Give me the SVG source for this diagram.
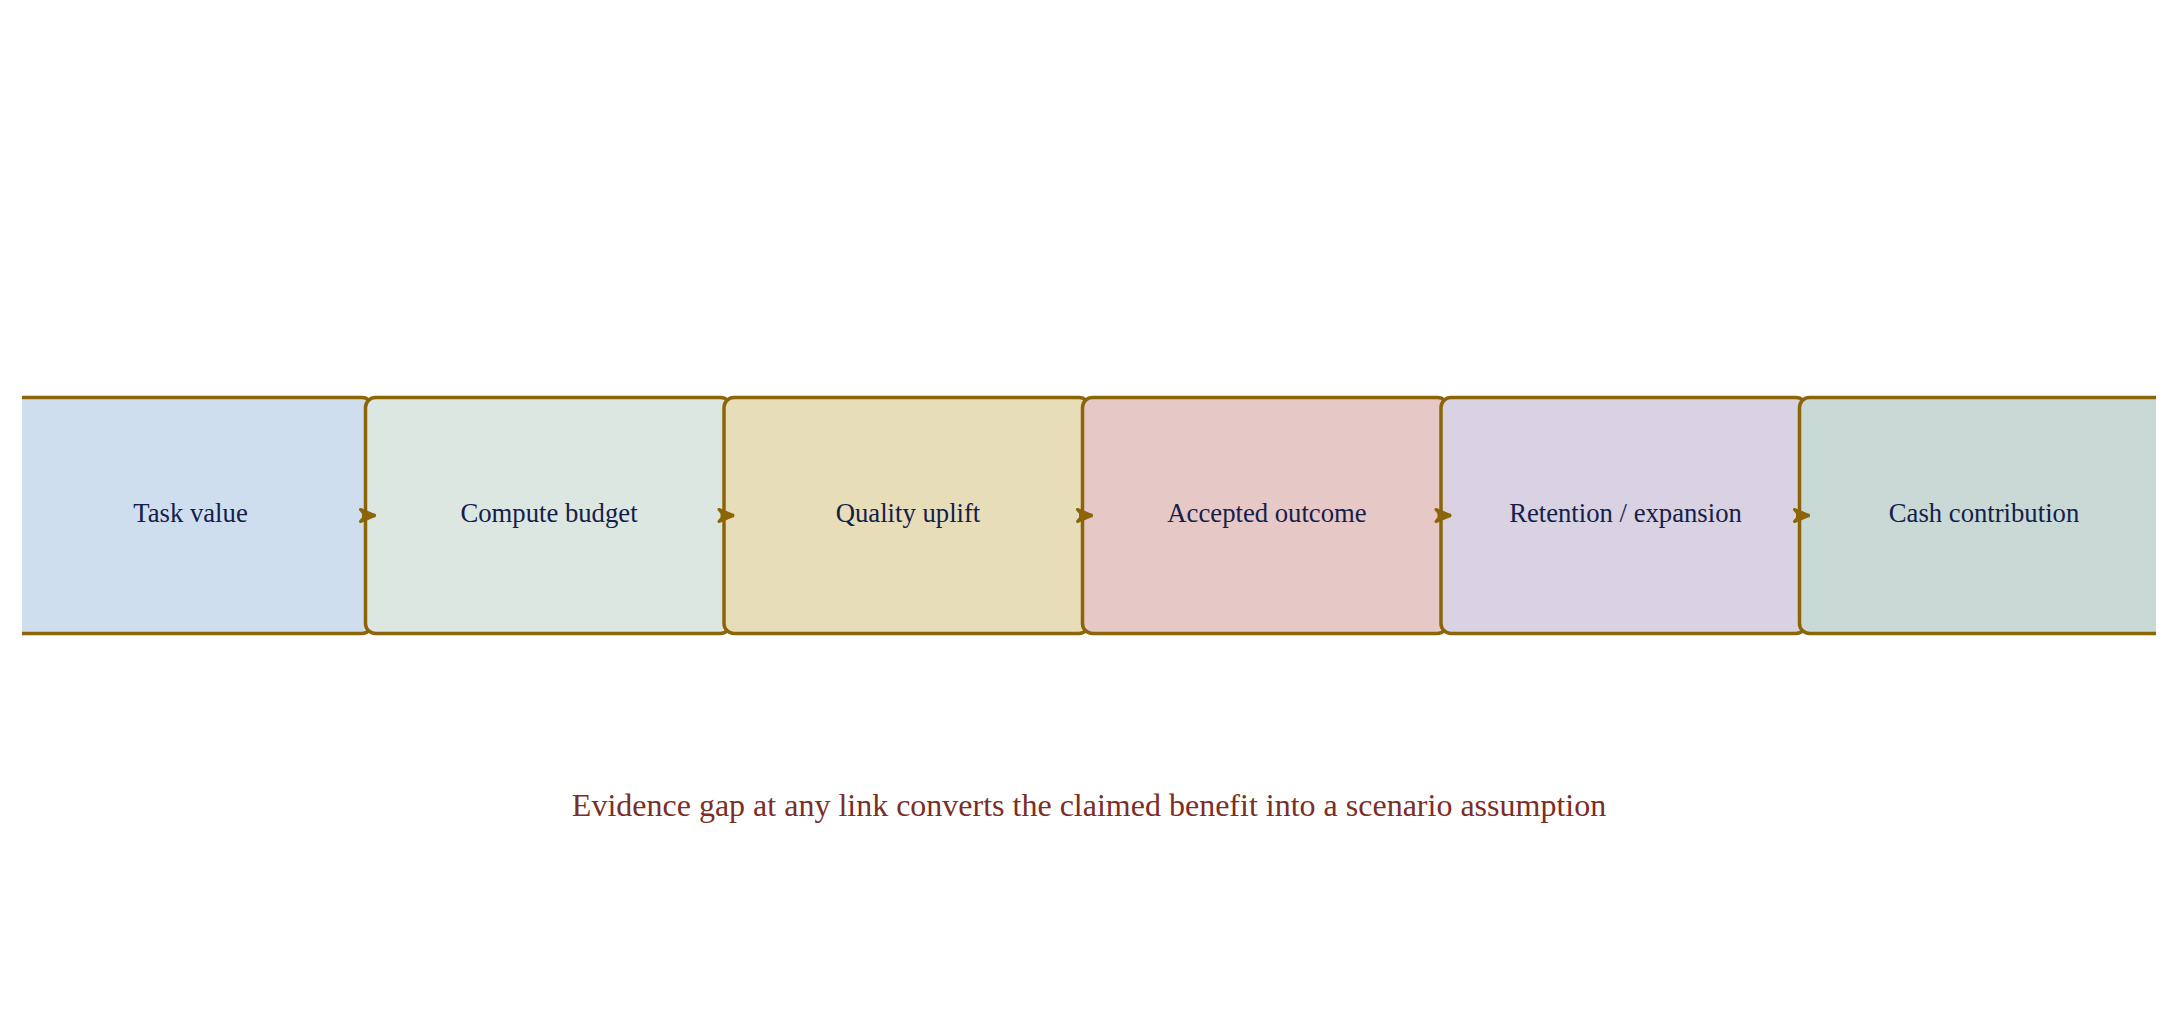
<svg xmlns="http://www.w3.org/2000/svg" width="2178" height="1012" viewBox="0 0 2178 1012">
  <style>
    .box { stroke: #8b6508; stroke-width: 3.5; }
    .lbl { font-family: "Liberation Serif", "Times New Roman", serif; font-size: 26.7px; fill: #14204a; text-anchor: middle; }
    .cap { font-family: "Liberation Serif", "Times New Roman", serif; font-size: 32px; fill: #7b2d26; text-anchor: middle; }
    .edge { stroke: #8b6508; stroke-width: 3.5; fill: none; }
  </style>
  <defs>
    <clipPath id="frame">
      <rect x="22" y="0" width="2134" height="1012"/>
    </clipPath>
    <marker id="vee" markerUnits="userSpaceOnUse" viewBox="0 0 16 14" refX="16" refY="7" markerWidth="16" markerHeight="14" orient="auto" overflow="visible">
      <path d="M1,1 L15,7 L1,13 L6,7 Z" fill="#8b6508" stroke="#8b6508" stroke-width="3" stroke-linejoin="round"/>
    </marker>
  </defs>
  <rect x="0" y="0" width="2178" height="1012" fill="#ffffff"/>
  <g clip-path="url(#frame)">
    <g id="node-task-value">
      <rect class="box" x="7" y="397.5" width="365" height="236" rx="10" fill="#cfdeef"/>
      <text class="lbl" x="190.5" y="522">Task value</text>
    </g>
    <g id="node-compute-budget">
      <rect class="box" x="365.5" y="397.5" width="365" height="236" rx="10" fill="#dde7e1"/>
      <text class="lbl" x="549" y="522">Compute budget</text>
    </g>
    <g id="node-quality-uplift">
      <rect class="box" x="724" y="397.5" width="365" height="236" rx="10" fill="#e7ddb9"/>
      <text class="lbl" x="908" y="522">Quality uplift</text>
    </g>
    <g id="node-accepted-outcome">
      <rect class="box" x="1082.5" y="397.5" width="365" height="236" rx="10" fill="#e6c8c6"/>
      <text class="lbl" x="1267" y="522">Accepted outcome</text>
    </g>
    <g id="node-retention-expansion">
      <rect class="box" x="1441" y="397.5" width="365" height="236" rx="10" fill="#d9d2e2"/>
      <text class="lbl" x="1625.5" y="522">Retention / expansion</text>
    </g>
    <g id="node-cash-contribution">
      <rect class="box" x="1799.5" y="397.5" width="365" height="236" rx="10" fill="#c8d9d6"/>
      <text class="lbl" x="1984" y="522">Cash contribution</text>
    </g>
    <g id="connectors">
      <path class="edge" d="M362,515.5 L375.5,515.5" marker-end="url(#vee)"/>
      <path class="edge" d="M720.5,515.5 L734,515.5" marker-end="url(#vee)"/>
      <path class="edge" d="M1079,515.5 L1092.5,515.5" marker-end="url(#vee)"/>
      <path class="edge" d="M1437.5,515.5 L1451,515.5" marker-end="url(#vee)"/>
      <path class="edge" d="M1796,515.5 L1809.5,515.5" marker-end="url(#vee)"/>
    </g>
  </g>
  <text class="cap" x="1089" y="816">Evidence gap at any link converts the claimed benefit into a scenario assumption</text>
</svg>
